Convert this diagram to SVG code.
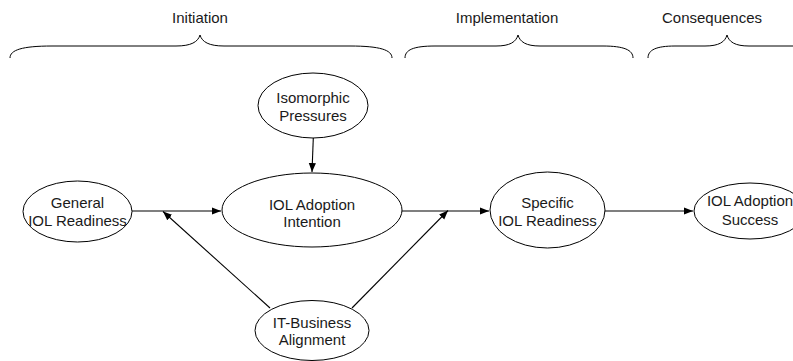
<svg xmlns="http://www.w3.org/2000/svg" width="793" height="361" viewBox="0 0 793 361">
  <style>
    .shape { fill: #ffffff; stroke: #000000; stroke-width: 1; }
    .brace { fill: none; stroke: #000000; stroke-width: 1; }
    .edge { fill: none; stroke: #000000; stroke-width: 1.1; marker-end: url(#arrow); }
    text { font-family: "Liberation Sans", Arial, Helvetica, sans-serif; font-size: 15px; fill: #1a1a1a; text-anchor: middle; }
  </style>
  <defs>
    <marker id="arrow" viewBox="0 0 10 10" refX="10" refY="5" markerWidth="9" markerHeight="9" markerUnits="userSpaceOnUse" orient="auto">
      <path d="M0,1 L10,5 L0,9 Z" fill="#000000"/>
    </marker>
  </defs>
  <rect width="793" height="361" fill="#ffffff"/>

  <!-- phase braces -->
  <g id="phase-initiation">
    <text x="200" y="22.5">Initiation</text>
    <path class="brace" d="M10,58 C10,50 22,46 52,46 L176,46 C191,46 198,42 200,35 C202,42 209,46 224,46 L350,46 C380,46 392,50 392,58"/>
  </g>
  <g id="phase-implementation">
    <text x="507" y="22.5">Implementation</text>
    <path class="brace" d="M405,58 C405,50 413,46 435,46 L496,46 C510,46 516,42 518,35 C520,42 526,46 540,46 L603,46 C624,46 633,50 633,58"/>
  </g>
  <g id="phase-consequences">
    <text x="712" y="22.5">Consequences</text>
    <path class="brace" d="M648,58 C648,50 656,46 675,46 L705,46 C719,46 725,42 727,35 C729,42 735,46 749,46 L800,46"/>
  </g>

  <!-- connectors -->
  <g id="connectors">
    <line class="edge" x1="132" y1="211" x2="221" y2="211"/>
    <line class="edge" x1="313.3" y1="138" x2="312" y2="172"/>
    <line class="edge" x1="402" y1="211" x2="489" y2="211"/>
    <line class="edge" x1="605" y1="211" x2="693" y2="211"/>
    <line class="edge" x1="270" y1="308" x2="163" y2="211.5"/>
    <line class="edge" x1="352" y1="308" x2="448" y2="210.5"/>
  </g>

  <!-- nodes -->
  <g id="general-iol-readiness">
    <ellipse class="shape" cx="77.5" cy="211.5" rx="54.5" ry="30.5"/>
    <text x="77.5" y="208">General</text>
    <text x="77.5" y="225.5">IOL Readiness</text>
  </g>
  <g id="isomorphic-pressures">
    <ellipse class="shape" cx="313" cy="105.5" rx="55" ry="32.5"/>
    <text x="313" y="103">Isomorphic</text>
    <text x="313" y="120.5">Pressures</text>
  </g>
  <g id="iol-adoption-intention">
    <ellipse class="shape" cx="312" cy="210" rx="90" ry="37"/>
    <text x="312" y="210">IOL Adoption</text>
    <text x="312" y="227">Intention</text>
  </g>
  <g id="specific-iol-readiness">
    <ellipse class="shape" cx="547.5" cy="210" rx="57.5" ry="38"/>
    <text x="547.5" y="208">Specific</text>
    <text x="547.5" y="225.5">IOL Readiness</text>
  </g>
  <g id="iol-adoption-success">
    <ellipse class="shape" cx="750" cy="211" rx="56" ry="28"/>
    <text x="750" y="206">IOL Adoption</text>
    <text x="750" y="224.5">Success</text>
  </g>
  <g id="it-business-alignment">
    <ellipse class="shape" cx="312" cy="330.5" rx="57" ry="30"/>
    <text x="312" y="328">IT-Business</text>
    <text x="312" y="345">Alignment</text>
  </g>
</svg>
